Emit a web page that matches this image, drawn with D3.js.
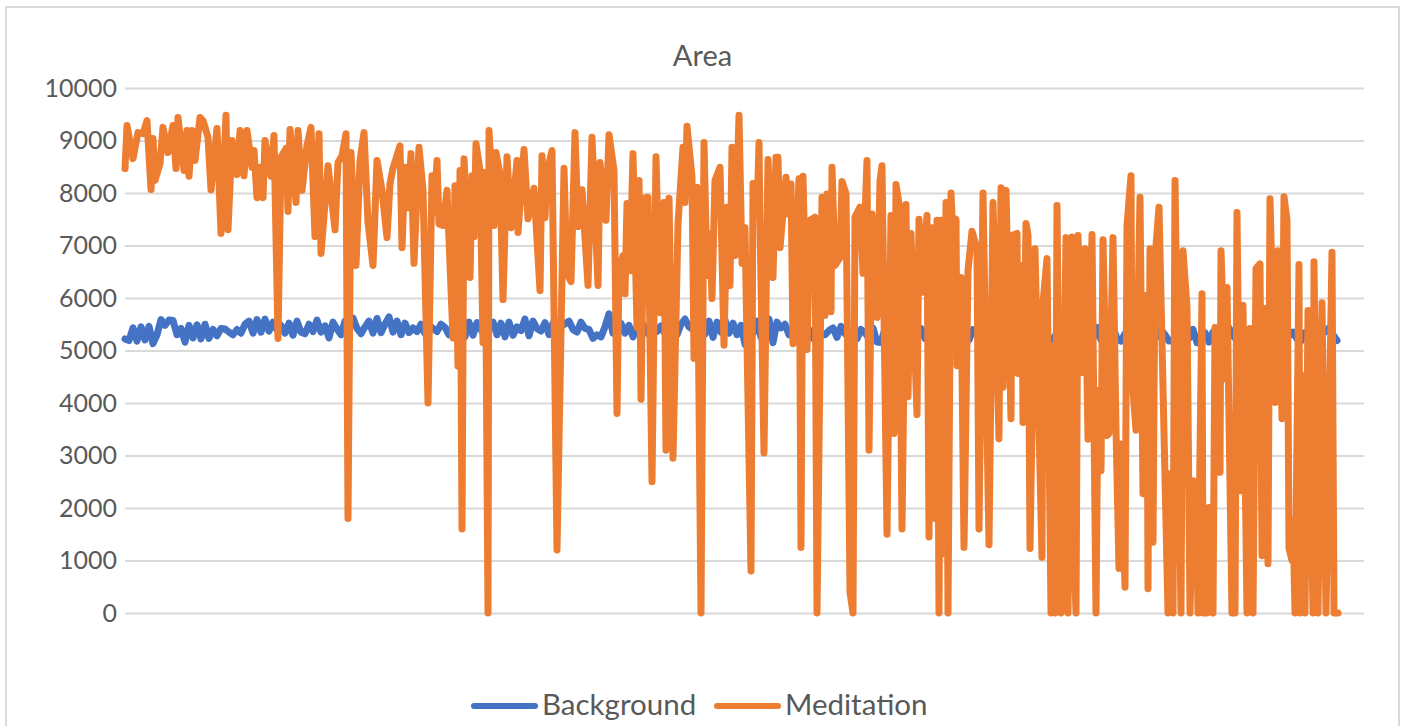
<!DOCTYPE html>
<html>
<head>
<meta charset="utf-8">
<title>Area</title>
<script src="https://cdn.jsdelivr.net/npm/d3@7"></script>
<style>
  html, body { margin: 0; padding: 0; background: #fff; overflow: hidden; }
  svg { display: block; }
  text { font-family: Lato, "Open Sans", sans-serif; fill: #595959; }
</style>
</head>
<body>
<svg id="chart" width="1405" height="726"></svg>
<script>
const yTicks = [0, 1000, 2000, 3000, 4000, 5000, 6000, 7000, 8000, 9000, 10000];
const seriesNames = ["Background", "Meditation"];
const seriesColors = ["#4472c4", "#ed7d31"];

// Background, read every 4 samples
const backgroundStep = 4;
const backgroundArea = [
  5220,5190,5430,5180,5450,5200,5460,5130,5300,5590,5480,5580,5570,5300,5420,5160,5480,5240,5490,5220,
  5500,5230,5400,5280,5420,5410,5350,5300,5400,5330,5500,5560,5330,5590,5350,5600,5370,5540,5390,5480,
  5330,5520,5290,5560,5350,5320,5500,5360,5580,5350,5470,5240,5540,5410,5300,5560,5400,5620,5420,5320,
  5450,5560,5330,5610,5340,5500,5640,5350,5560,5300,5520,5340,5430,5360,5500,5320,5480,5420,5360,5500,
  5440,5300,5480,5250,5500,5260,5540,5290,5530,5400,5270,5500,5540,5300,5520,5260,5540,5290,5450,5380,
  5600,5280,5560,5420,5370,5530,5300,5520,5540,5450,5510,5560,5400,5350,5540,5420,5400,5230,5300,5260,
  5450,5700,5330,5290,5520,5330,5480,5260,5450,5580,5400,5300,5490,5360,5470,5320,5400,5440,5300,5500,
  5600,5450,5400,5520,5490,5310,5560,5250,5540,5350,5580,5330,5520,5300,5480,5120,5400,5330,5560,5250,
  5450,5600,5150,5540,5430,5500,5300,5420,5240,5470,5330,5400,5230,5480,5320,5300,5380,5430,5250,5460,
  5320,5250,5380,5220,5400,5340,5230,5430,5160,5150,5420,5310,5340,5380,5450,5270,5390,5400,5300,5420,
  5230,5480,5310,5270,5200,5420,5260,5200,5340,5220,5270,5200,5400,5320,5270,5390,5240,5410,5200,5350,
  5270,5400,5190,5440,5250,5220,5380,5200,5360,5270,5430,5220,5190,5350,5260,5200,5380,5210,5370,5240,
  5200,5420,5230,5440,5200,5370,5240,5450,5220,5180,5320,5210,5430,5260,5370,5200,5450,5300,5260,5390,
  5300,5180,5200,5260,5380,5290,5230,5400,5150,5180,5340,5160,5350,5420,5200,5170,5430,5280,5200,5340,
  5230,5400,5200,5260,5350,5180,5340,5240,5200,5400,5210,5280,5350,5220,5180,5340,5190,5400,5200,5380,
  5350,5430,5300,5190
];

// Meditation, turning points of the line
const meditationSample = [
  0,2,8,13,18,22,26,28,30,35,
  38,43,48,51,53,59,62,64,67,70,
  75,78,83,86,92,96,101,103,107,112,
  115,119,122,127,129,132,135,138,140,146,
  149,153,156,161,163,165,171,173,177,182,
  186,190,194,196,203,210,213,217,221,223,
  226,231,235,239,243,248,252,257,262,265,
  268,275,277,280,283,286,289,294,298,303,
  307,309,312,314,318,322,328,330,333,335,
  337,339,345,347,349,351,355,358,360,363,
  364,369,371,375,378,382,386,392,393,399,
  403,409,415,417,420,422,427,432,439,442,
  446,450,453,457,463,467,473,475,481,484,
  489,492,494,498,500,502,505,508,512,514,
  516,519,523,527,531,535,539,541,544,548,
  553,558,560,562,567,569,572,576,579,582,
  585,587,590,595,599,602,605,607,610,614,
  617,620,626,628,632,634,635,639,643,648,
  651,653,655,661,663,666,668,674,676,678,
  682,685,690,692,697,700,702,706,707,710,
  715,717,721,725,728,730,735,738,742,744,
  747,752,755,757,762,766,769,771,774,777,
  781,783,786,792,794,797,802,804,807,810,
  812,814,816,818,821,823,826,827,831,832,
  836,839,843,847,852,854,858,864,868,874,
  876,878,881,886,887,892,893,897,898,901,
  903,905,910,917,918,922,926,928,930,932,
  936,941,943,947,949,951,953,957,960,963,
  967,971,973,976,978,982,984,988,991,994,
  996,1000,1002,1006,1007,1011,1015,1018,1022,1023,
  1025,1028,1030,1034,1043,1045,1048,1050,1056,1058,
  1062,1065,1068,1071,1073,1077,1078,1082,1084,1088,
  1090,1095,1096,1100,1102,1107,1110,1112,1115,1118,
  1122,1125,1128,1131,1135,1137,1140,1143,1145,1150,
  1153,1157,1159,1162,1164,1167,1168,1170,1174,1175,
  1178,1180,1183,1188,1189,1193,1197,1201,1207,1209,
  1213
];
const meditationArea = [
  8465,9285,8655,9150,9130,9380,8065,9040,8240,8560,
  9250,8770,9285,8465,9440,8430,9190,8320,9190,8620,
  9440,9380,9060,8060,9230,7230,9480,7300,9000,8350,
  9190,8330,9190,8490,8810,7910,8490,7910,9000,8320,
  9095,5230,8680,8850,7650,9210,7820,9190,8050,8905,
  9250,7170,9130,6850,8520,7300,8580,8710,9130,1800,
  8770,6620,8620,9150,7440,6620,8620,8050,7150,8180,
  8470,8900,6960,8490,7720,8750,6660,8870,8050,4000,
  8330,7630,8620,7410,7380,8050,5240,8140,4700,8430,
  1600,8650,6390,8330,7170,8940,8430,5150,8390,0,
  9190,7380,8770,8370,5970,8690,7340,8620,7250,8830,
  7510,8090,6140,8710,7530,8390,8810,1200,8470,6470,
  6310,9150,7360,8060,6240,9060,6240,8580,7480,9110,
  8430,3800,6560,6810,6080,7800,6520,8750,5440,8240,
  4070,7900,7920,2500,8690,5720,7820,3100,7900,2950,
  7410,8870,7820,9270,8300,4850,8110,0,8960,6430,
  7230,5990,8240,8490,5100,7730,6240,8870,6810,9480,
  6660,7340,800,8180,7570,8960,7420,3050,8640,6390,
  8680,8680,6960,8300,7600,8170,5130,8270,1250,8320,
  5020,7480,7540,0,7920,5670,7980,5740,8490,6620,
  6770,8220,7990,400,0,7540,7730,6470,8620,3100,
  7600,5630,8240,8520,1500,7570,3420,8160,7800,1600,
  7780,4120,7230,3780,7500,6110,7570,1450,7340,1800,
  7480,0,7480,1130,7820,0,8000,7540,7500,4710,
  6390,1250,6520,7270,6940,1600,8000,1300,7820,3320,
  8100,4300,8050,3700,7190,7230,4560,6620,3630,7420,
  7200,1230,6940,1060,5910,6750,0,5090,0,7760,
  0,7150,0,7160,1200,0,7190,4580,6940,3310,
  7210,0,4240,2710,7110,3380,3420,7150,3500,850,
  3220,490,7380,8330,4490,3480,7920,2270,6050,460,
  6940,1350,6750,7730,0,2650,0,8240,0,6900,
  5820,0,2520,2490,0,6080,0,0,2010,0,
  5440,2680,6900,4460,6200,0,0,7630,2330,5860,
  0,5420,0,6560,6650,1090,5800,940,7890,4010,
  6900,3700,7930,7480,1230,1000,1760,0,6640,0,
  4520,0,5760,0,6690,0,5910,0,6870,0,
  0
];

const svg = d3.select("#chart");

const x = d3.scaleLinear().domain([0, d3.max(meditationSample)]).range([125, 1338]);
const y = d3.scaleLinear().domain([0, 10000]).range([613, 88]);

// chart frame, runs off the bottom of the page
svg.append("rect")
  .attr("x", 6).attr("y", 7)
  .attr("width", 1393).attr("height", 760)
  .attr("fill", "#fff")
  .attr("stroke", "#d9d9d9")
  .attr("stroke-width", 2);

const yAxis = d3.axisLeft(y)
  .tickValues(yTicks)
  .tickFormat(d3.format("d"))
  .tickSize(-1239)
  .tickPadding(8);

const axisG = svg.append("g").attr("transform", "translate(125,0)").call(yAxis);
axisG.select(".domain").remove();
axisG.selectAll(".tick line").attr("stroke", "#d9d9d9").attr("stroke-width", 2);
axisG.selectAll(".tick text").attr("font-size", 25).attr("fill", "#595959").style("font-family", "Lato");

svg.append("text")
  .attr("x", 702.5).attr("y", 66)
  .attr("text-anchor", "middle")
  .attr("font-size", 29)
  .text("Area");

const line = d3.line()
  .x(d => x(d[0]))
  .y(d => y(d[1]));

const backgroundPoints = backgroundArea.map((v, i) => [i * backgroundStep, v]);
const meditationPoints = meditationArea.map((v, i) => [meditationSample[i], v]);

svg.selectAll("path.series")
  .data([backgroundPoints, meditationPoints])
  .join("path")
  .attr("class", "series")
  .attr("d", line)
  .attr("fill", "none")
  .attr("stroke", (d, i) => seriesColors[i])
  .attr("stroke-width", 7)
  .attr("stroke-linejoin", "round")
  .attr("stroke-linecap", "round");

// legend
const legendX = [474, 717];
const legend = svg.selectAll("g.legend")
  .data(seriesNames)
  .join("g")
  .attr("class", "legend")
  .attr("transform", (d, i) => `translate(${legendX[i]},706)`);

legend.append("line")
  .attr("x1", 0).attr("x2", 61)
  .attr("stroke", (d, i) => seriesColors[i])
  .attr("stroke-width", 6)
  .attr("stroke-linecap", "round");

legend.append("text")
  .attr("x", 68).attr("y", 9)
  .attr("font-size", 29.5)
  .text(d => d);
</script>
</body>
</html>
